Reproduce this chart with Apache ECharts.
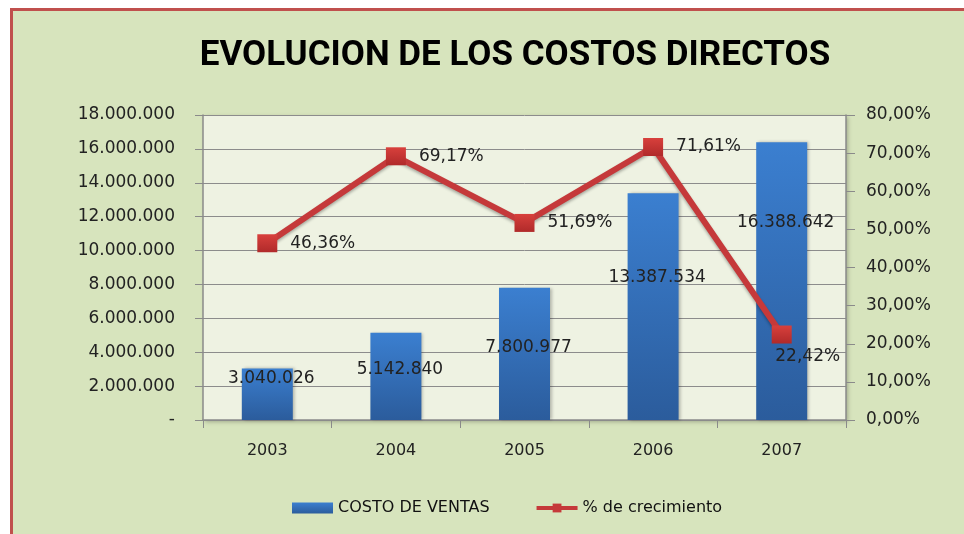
<!DOCTYPE html>
<html>
<head>
<meta charset="utf-8">
<script src="https://cdn.jsdelivr.net/npm/echarts@6/dist/echarts.min.js"></script>
<style>
  html, body { margin: 0; padding: 0; background: #fff; }
  #main { width: 964px; height: 534px; }
</style>
</head>
<body>
<div id="main"></div>
<script>
var years = ["2003", "2004", "2005", "2006", "2007"];
var costoVentas = [3040026, 5142840, 7800977, 13387534, 16388642];
var crecimiento = [46.36, 69.17, 51.69, 71.61, 22.42];

// Excel moved the bar labels by hand, so nudge each one
var barLabelDy = [-3, 23, 46, 71, 67];

var numFont = "DejaVu Sans";

function fmtMiles(v) {
  if (v === 0) return "-";
  return String(Math.round(v)).replace(/\B(?=(\d{3})+(?!\d))/g, ".");
}

function fmtPct(v) {
  return v.toFixed(2).replace(".", ",") + "%";
}

var barData = costoVentas.map(function (v, i) {
  return { value: v, label: { offset: [4, barLabelDy[i]] } };
});

var lineData = crecimiento.map(function (v, i) {
  if (i === crecimiento.length - 1) {
    return { value: v, label: { position: "bottom", offset: [26, -8] } };
  }
  return v;
});

var myChart = echarts.init(document.getElementById("main"), null, { renderer: "canvas" });

var option = {
  animation: false,
  backgroundColor: "#ffffff",
  graphic: [
    {
      type: "rect",
      z: -10,
      shape: { x: 11.5, y: 9.5, width: 1000, height: 600 },
      style: { fill: "#d7e4bd", stroke: "#c0504d", lineWidth: 3 }
    }
  ],
  title: {
    text: "EVOLUCION DE LOS COSTOS DIRECTOS",
    top: 34,
    left: 510,
    textAlign: "center",
    textStyle: {
      fontFamily: "Roboto",
      fontWeight: "bold",
      fontSize: 35,
      color: "#000"
    }
  },
  legend: {
    left: 287,
    top: 495,
    itemGap: 45,
    itemWidth: 41,
    itemHeight: 11,
    textStyle: { fontFamily: numFont, fontSize: 16, color: "#111" },
    data: [
      { name: "COSTO DE VENTAS", icon: "rect" },
      {
        name: "% de crecimiento",
        itemStyle: { color: "#c5393a" },
        lineStyle: { color: "#c5393a", width: 4 }
      }
    ]
  },
  grid: {
    left: 203,
    right: 118,
    top: 115,
    bottom: 114,
    show: true,
    backgroundColor: "#eef2e2",
    borderWidth: 0,
    shadowColor: "rgba(0,0,0,0.25)",
    shadowBlur: 4,
    shadowOffsetX: 2,
    shadowOffsetY: 2
  },
  xAxis: {
    type: "category",
    data: years,
    axisLine: { lineStyle: { color: "#8a8a8a", width: 1.5 } },
    axisTick: { show: true, length: 8, lineStyle: { color: "#8a8a8a" } },
    axisLabel: { margin: 23, fontFamily: numFont, fontSize: 16, color: "#222" }
  },
  yAxis: [
    {
      type: "value",
      min: 0,
      max: 18000000,
      interval: 2000000,
      axisLine: { show: true, lineStyle: { color: "#8a8a8a", width: 1.5 } },
      axisTick: { show: true, length: 8, lineStyle: { color: "#8a8a8a" } },
      splitLine: { lineStyle: { color: "#8c8c8c", width: 1 } },
      axisLabel: {
        margin: 28,
        fontFamily: numFont,
        fontSize: 17,
        color: "#222",
        formatter: fmtMiles
      }
    },
    {
      type: "value",
      min: 0,
      max: 80,
      interval: 10,
      axisLine: { show: true, lineStyle: { color: "#8a8a8a", width: 1.5 } },
      axisTick: { show: true, length: 9, lineStyle: { color: "#8a8a8a" } },
      splitLine: { show: false },
      axisLabel: {
        margin: 20,
        fontFamily: numFont,
        fontSize: 17,
        color: "#222",
        formatter: function (v) { return fmtPct(v); }
      }
    }
  ],
  series: [
    {
      name: "COSTO DE VENTAS",
      type: "bar",
      barWidth: 51,
      data: barData,
      itemStyle: {
        color: new echarts.graphic.LinearGradient(0, 0, 0, 1, [
          { offset: 0, color: "#3b7fd0" },
          { offset: 1, color: "#2b5c9c" }
        ]),
        shadowColor: "rgba(0,0,0,0.25)",
        shadowBlur: 3,
        shadowOffsetX: 2
      },
      label: {
        show: true,
        position: "insideTop",
        fontFamily: numFont,
        fontSize: 17,
        color: "#222",
        formatter: function (p) { return fmtMiles(p.value); }
      }
    },
    {
      name: "% de crecimiento",
      type: "line",
      yAxisIndex: 1,
      data: lineData,
      symbol: "rect",
      symbolSize: [20, 18],
      lineStyle: {
        color: "#c5393a",
        width: 6,
        shadowColor: "rgba(0,0,0,0.3)",
        shadowBlur: 3,
        shadowOffsetY: 2
      },
      itemStyle: {
        color: new echarts.graphic.LinearGradient(0, 0, 0, 1, [
          { offset: 0, color: "#d8403c" },
          { offset: 1, color: "#b02a2a" }
        ]),
        borderWidth: 0
      },
      label: {
        show: true,
        position: "right",
        distance: 13,
        fontFamily: numFont,
        fontSize: 17,
        color: "#222",
        formatter: function (p) { return fmtPct(p.value); }
      },
      z: 5
    }
  ]
};

myChart.setOption(option);
window.addEventListener("resize", myChart.resize);
</script>
</body>
</html>
